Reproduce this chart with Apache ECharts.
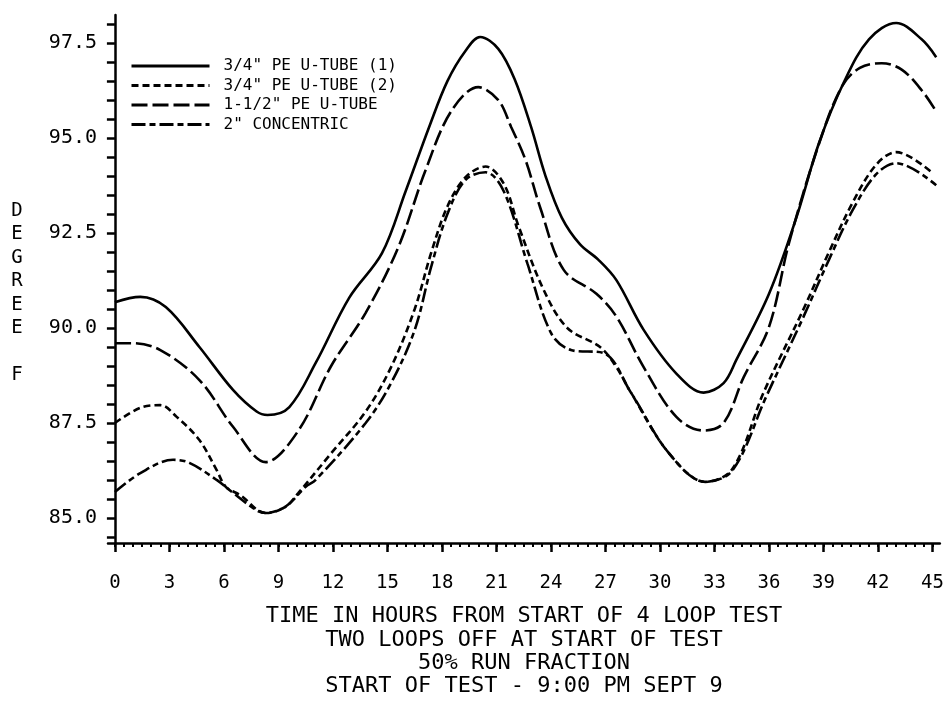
<!DOCTYPE html>
<html><head><meta charset="utf-8">
<script src="https://cdn.jsdelivr.net/npm/echarts@6/dist/echarts.min.js"></script>
<style>html,body{margin:0;padding:0;background:#fff}#c{width:947px;height:710px}</style>
</head><body><div id="c"></div>
<script>
// ---- data ----
const seriesNames = ['3/4" PE U-TUBE (1)', '3/4" PE U-TUBE (2)', '1-1/2" PE U-TUBE', '2" CONCENTRIC'];

const tube1Hours = [0, 1.4, 2.8, 4.65, 6.5, 7.8, 8.4, 9.6, 11.05, 12.9, 14.7, 16.0, 17.3, 18.3, 19.3, 20.1, 21.1, 22.0, 22.9, 23.7, 24.6, 25.6, 26.6, 27.6, 29.1, 30.9, 32.4, 33.5, 34.2, 36.0, 37.5, 38.75, 40.1, 41.5, 43.0, 44.4, 45.2];
const tube1Temps = [90.68, 90.82, 90.55, 89.5, 88.37, 87.8, 87.71, 87.92, 89.08, 90.8, 91.97, 93.6, 95.3, 96.5, 97.3, 97.66, 97.35, 96.55, 95.3, 94.0, 92.9, 92.2, 91.8, 91.26, 89.95, 88.8, 88.3, 88.55, 89.16, 90.9, 92.9, 94.87, 96.45, 97.6, 98.03, 97.6, 97.13];

const tube2Hours = [0, 1.4, 2.5, 3.4, 4.65, 5.6, 6.1, 6.9, 8.3, 9.4, 10.1, 11.9, 13.8, 15.2, 16.5, 17.4, 18.3, 19.3, 20.4, 21.4, 22.2, 23.6, 24.9, 26.7, 27.6, 28.4, 30.5, 32.5, 34.0, 35.7, 37.9, 39.3, 40.6, 41.9, 43.0, 45.0];
const tube2Temps = [87.5, 87.9, 87.97, 87.66, 87.05, 86.26, 85.82, 85.6, 85.13, 85.3, 85.66, 86.7, 87.8, 88.97, 90.5, 91.97, 93.2, 93.97, 94.25, 93.8, 92.7, 91.0, 90.0, 89.5, 88.97, 88.3, 86.7, 85.95, 86.3, 88.3, 90.5, 92.0, 93.3, 94.3, 94.63, 94.08];

const tube15Hours = [0, 1.0, 2.5, 4.65, 6.5, 8.3, 10.1, 11.9, 13.8, 15.6, 17.1, 18.5, 20.0, 21.1, 21.8, 22.6, 23.4, 24.7, 26.5, 27.6, 29.1, 30.9, 32.4, 33.5, 34.6, 36.0, 37.1, 38.75, 40.0, 41.0, 42.2, 43.3, 44.4, 45.2];
const tube15Temps = [89.6, 89.6, 89.42, 88.63, 87.4, 86.47, 87.3, 89.0, 90.4, 92.13, 94.16, 95.7, 96.34, 96.0, 95.3, 94.42, 93.18, 91.53, 90.9, 90.3, 88.97, 87.66, 87.3, 87.5, 88.7, 90.03, 92.24, 94.85, 96.35, 96.85, 96.97, 96.8, 96.26, 95.7];

const concHours = [0, 1.4, 3.2, 4.1, 5.6, 6.5, 7.8, 8.3, 9.4, 10.5, 11.05, 13.8, 15.2, 16.5, 17.4, 18.3, 19.3, 20.4, 21.4, 22.7, 24.0, 25.1, 26.9, 28.4, 30.5, 32.5, 34.0, 35.85, 37.9, 39.3, 40.6, 41.9, 43.0, 45.2];
const concTemps = [85.68, 86.18, 86.53, 86.45, 86.0, 85.66, 85.2, 85.13, 85.3, 85.82, 86.0, 87.5, 88.55, 89.95, 91.6, 93.0, 93.9, 94.1, 93.6, 91.7, 89.87, 89.42, 89.34, 88.3, 86.7, 85.95, 86.26, 88.2, 90.3, 91.8, 93.1, 94.05, 94.34, 93.76];

const xTickLabels = [0, 3, 6, 9, 12, 15, 18, 21, 24, 27, 30, 33, 36, 39, 42, 45];
const yTickLabels = [85, 87.5, 90, 92.5, 95, 97.5];
const titleLines = ['TIME IN HOURS FROM START OF 4 LOOP TEST', 'TWO LOOPS OFF AT START OF TEST', '50% RUN FRACTION', 'START OF TEST - 9:00 PM SEPT 9'];
const yNameLetters = ['D', 'E', 'G', 'R', 'E', 'E', '', 'F'];

// ---- build ----
const pairs = (xs, ys) => xs.map((x, i) => [x, ys[i]]);
const xMinor = []; for (let v = 0; v <= 45; v += 0.5) xMinor.push(v);
const yMinor = []; for (let v = 84.5; v <= 98.01; v += 0.5) yMinor.push(+v.toFixed(1));
const MONO = 'DejaVu Sans Mono';

const dashes = ['solid', [7, 4], [16, 5], [14, 4, 6, 4]];
const datasets = [pairs(tube1Hours, tube1Temps), pairs(tube2Hours, tube2Temps), pairs(tube15Hours, tube15Temps), pairs(concHours, concTemps)];

const chart = echarts.init(document.getElementById('c'), null, {renderer: 'canvas'});
chart.setOption({
  backgroundColor: '#fff',
  animation: false,
  grid: {left: 108, right: 3, top: 15, bottom: 167, containLabel: false},
  legend: {
    orient: 'vertical', left: 130, top: 57, padding: 0,
    itemWidth: 78, itemHeight: 14, itemGap: 1.5,
    data: seriesNames,
    itemStyle: {opacity: 0},
    lineStyle: {width: 3},
    textStyle: {fontFamily: MONO, fontSize: 16, lineHeight: 18, color: '#000', padding: [0, 0, 0, 9]},
    selectedMode: false
  },
  xAxis: [
    {type: 'value', min: -0.38, max: 45.4,
     axisLine: {lineStyle: {color: '#000', width: 2.5}},
     axisTick: {customValues: xTickLabels, length: 9, lineStyle: {color: '#000', width: 2.5}},
     axisLabel: {customValues: xTickLabels, margin: 31, color: '#000', fontFamily: MONO, fontSize: 19},
     splitLine: {show: false}},
    {type: 'value', position: 'bottom', min: -0.38, max: 45.4,
     axisLine: {show: false},
     axisTick: {customValues: xMinor, length: 4, lineStyle: {color: '#000', width: 2}},
     axisLabel: {show: false}, splitLine: {show: false}}
  ],
  yAxis: {type: 'value', min: 84.34, max: 98.24,
    axisLine: {show: true, lineStyle: {color: '#000', width: 2.5}},
    axisTick: {show: true, customValues: yMinor, length: 8, lineStyle: {color: '#000', width: 2.5}},
    axisLabel: {customValues: yTickLabels, margin: 11, color: '#000', fontFamily: MONO, fontSize: 20,
      formatter: v => v.toFixed(1)},
    splitLine: {show: false}},
  graphic: [
    {type: 'text', x: 524, y: 605, style: {text: titleLines.join('\n'), textAlign: 'center', textVerticalAlign: 'top', font: '22px "DejaVu Sans Mono"', lineHeight: 23.3, fill: '#000'}},
    {type: 'text', x: 17, y: 199, style: {text: yNameLetters.join('\n'), textAlign: 'center', textVerticalAlign: 'top', font: '19px "DejaVu Sans Mono"', lineHeight: 23.5, fill: '#000'}}
  ],
  series: seriesNames.map((name, i) => ({
    name, type: 'line', xAxisIndex: 0, yAxisIndex: 0,
    data: datasets[i], smooth: 0.35, symbol: 'none',
    lineStyle: {color: '#000', width: 2.6, type: dashes[i]},
    itemStyle: {color: '#000'}
  }))
});
</script></body></html>
